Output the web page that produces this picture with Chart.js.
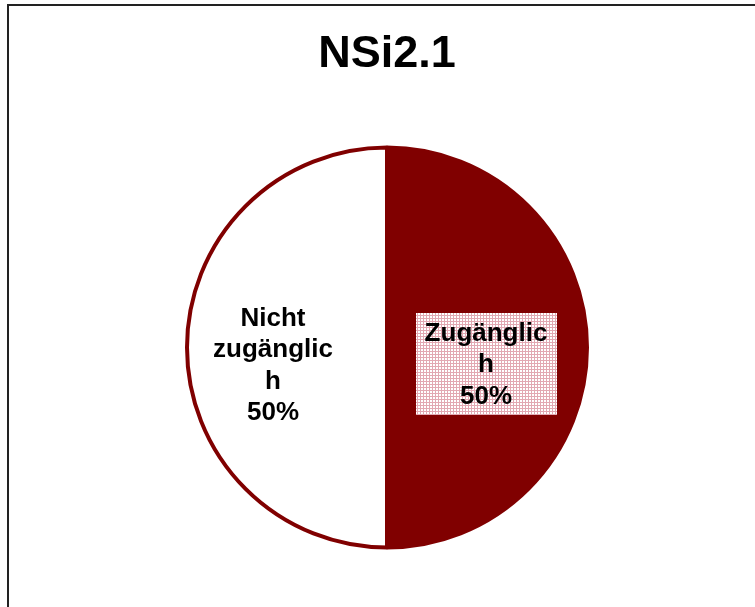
<!DOCTYPE html>
<html>
<head>
<meta charset="utf-8">
<script src="https://cdn.jsdelivr.net/npm/chart.js@4/dist/chart.umd.min.js"></script>
<style>
  html, body { margin: 0; padding: 0; background: #fff; overflow: hidden; }
  #wrap { position: relative; width: 755px; height: 607px; }
  #frame { position: absolute; left: 7px; top: 4px; width: 800px; height: 700px; border-left: 2px solid #222; border-top: 2px solid #222; box-sizing: border-box; }
  canvas { position: absolute; left: 0; top: 0; }
</style>
</head>
<body>
<div id="wrap">
  <div id="frame"></div>
  <canvas id="c" width="755" height="607"></canvas>
</div>
<script>
const chartTitle = 'NSi2.1';
const categories = ['Zugänglich', 'Nicht zugänglich'];
const values = [50, 50];
const sliceColors = ['#800000', '#ffffff'];
const edgeColor = '#800000';

const FONT = '"Liberation Sans", Arial, Helvetica, sans-serif';

function wrapText(ctx, text, maxW) {
  const words = text.split(' ');
  const lines = [];
  let cur = '';
  for (const w of words) {
    const tryLine = cur ? cur + ' ' + w : w;
    if (ctx.measureText(tryLine).width <= maxW) { cur = tryLine; continue; }
    if (cur) { lines.push(cur); cur = ''; }
    let piece = '';
    for (const ch of w) {
      if (ctx.measureText(piece + ch).width > maxW && piece) { lines.push(piece); piece = ch; }
      else piece += ch;
    }
    cur = piece;
  }
  if (cur) lines.push(cur);
  return lines;
}

function makePattern(ctx) {
  const p = document.createElement('canvas');
  p.width = 3; p.height = 3;
  const g = p.getContext('2d');
  g.fillStyle = '#ffffff'; g.fillRect(0, 0, 3, 3);
  g.fillStyle = 'rgb(226,168,178)'; g.fillRect(0, 0, 3, 1); g.fillRect(0, 0, 1, 3);
  return ctx.createPattern(p, 'repeat');
}

const labelPlugin = {
  id: 'sliceLabels',
  afterDatasetsDraw(chart, args, opts) {
    const ctx = chart.ctx;
    const meta = chart.getDatasetMeta(0);
    const total = values.reduce((a, b) => a + b, 0);
    ctx.save();
    ctx.font = 'bold 26px ' + FONT;
    ctx.textAlign = 'center';
    ctx.textBaseline = 'middle';
    const lh = 31.5;
    meta.data.forEach((arc, i) => {
      const p = arc.getProps(['x', 'y', 'startAngle', 'endAngle', 'outerRadius'], true);
      const mid = (p.startAngle + p.endAngle) / 2;
      const f = opts.radial[i];
      const cx = p.x + Math.cos(mid) * p.outerRadius * f;
      const cy = p.y + Math.sin(mid) * p.outerRadius * f + opts.dy[i];
      const pct = Math.round(values[i] / total * 100) + '%';
      const lines = wrapText(ctx, categories[i], opts.maxWidth).concat([pct]);
      const h = lines.length * lh;
      if (opts.boxed[i]) {
        let w = 0;
        lines.forEach(l => { w = Math.max(w, ctx.measureText(l).width); });
        ctx.fillStyle = makePattern(ctx);
        ctx.fillRect(Math.round(cx - w / 2 - 9), Math.round(cy - h / 2 - 4), Math.round(w + 18), Math.round(h + 7));
      }
      ctx.fillStyle = '#000';
      lines.forEach((l, k) => {
        ctx.fillText(l, cx, cy - h / 2 + lh * (k + 0.5) + 1);
      });
    });
    ctx.restore();
  }
};

new Chart(document.getElementById('c'), {
  type: 'pie',
  data: {
    labels: categories,
    datasets: [{
      data: values,
      backgroundColor: sliceColors,
      borderColor: edgeColor,
      borderWidth: 4,
      hoverOffset: 0
    }]
  },
  options: {
    responsive: false,
    animation: false,
    events: [],
    radius: 200,
    layout: { padding: { left: 19, right: 0, top: 0, bottom: 4 } },
    plugins: {
      legend: { display: false },
      tooltip: { enabled: false },
      title: {
        display: true,
        text: chartTitle,
        color: '#000',
        font: { family: FONT, size: 45, weight: 'bold', lineHeight: 1.2 },
        padding: { top: 28, bottom: 10 }
      },
      sliceLabels: {
        radial: [0.495, 0.57],
        dy: [16.5, 17.5],
        boxed: [true, false],
        maxWidth: 128
      }
    }
  },
  plugins: [labelPlugin]
});
</script>
</body>
</html>
